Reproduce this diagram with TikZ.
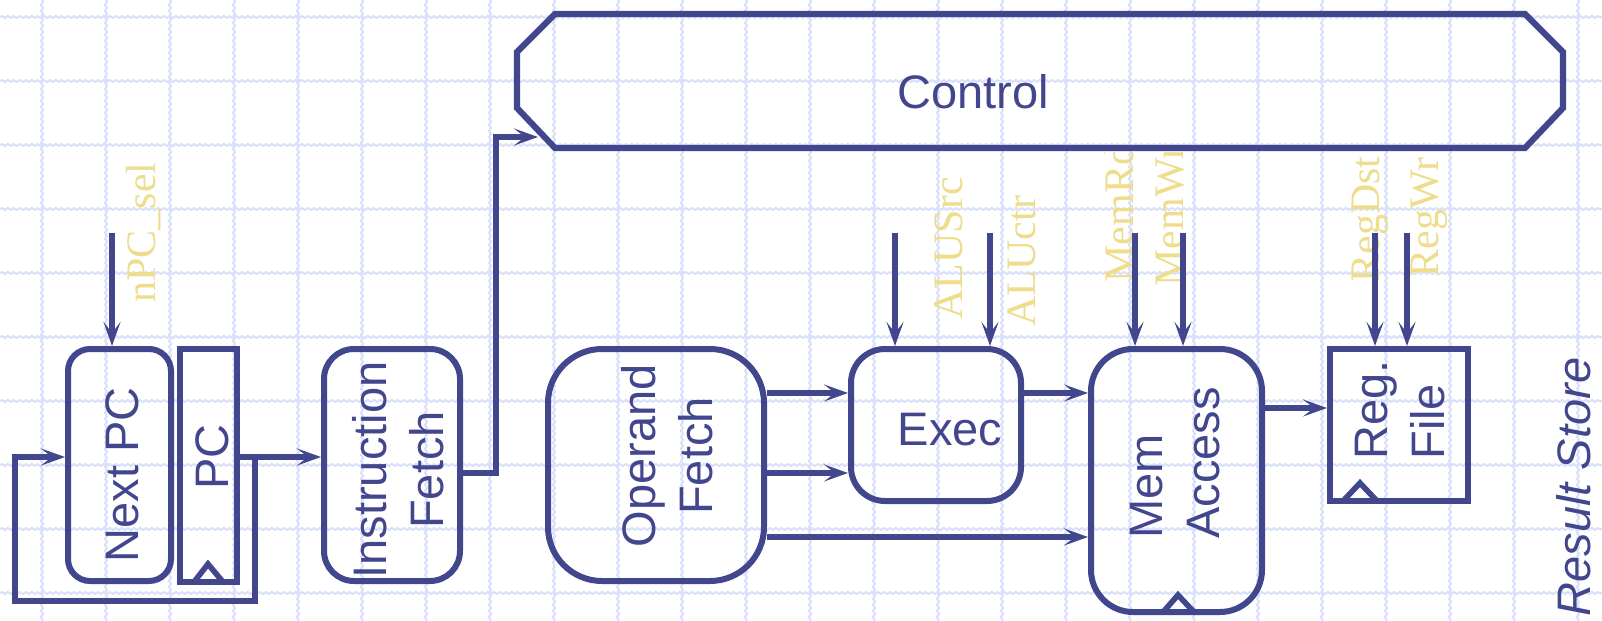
\documentclass[tikz,border=0pt]{standalone}
\usepackage{fontspec}
\setmainfont{Liberation Sans}
\newfontfamily\serifl{Liberation Serif}
\usetikzlibrary{arrows.meta,decorations.pathmorphing,fit,calc}
\definecolor{ink}{RGB}{66,70,140}
\definecolor{gold}{RGB}{238,221,140}
\definecolor{gridc}{RGB}{216,224,252}
\begin{document}
\begin{tikzpicture}[x=0.5pt,y=-0.5pt,
  blk/.style={draw=ink, line width=3pt, inner sep=0pt},
  arr/.style={draw=ink, line width=2.8pt, line join=miter, -{Stealth[length=12pt,width=8.5pt,inset=5.5pt]}},
  lbl/.style={text=ink, font=\fontsize{23.5}{28.5}\selectfont, inner sep=0pt},
  sig/.style={text=gold, font=\serifl\fontsize{21}{24}\selectfont, inner sep=0pt, rotate=90, anchor=base west},
  clk/.style={draw=ink, line width=2.8pt},
  gridl/.style={draw=gridc, line width=1pt, decorate, decoration={snake, segment length=3pt, amplitude=0.5pt}},
]
\useasboundingbox (0,0) rectangle (1602,621);
\fill[white] (0,0) rectangle (1602,621);
\foreach \i in {0,...,24} \draw[gridl] (42+64*\i,0) -- (42+64*\i,621);
\foreach \j in {0,...,9} \draw[gridl] (0,17+64*\j) -- (1602,17+64*\j);

% signal labels (partly hidden under Control)
\begin{scope}
\clip (0,152) rectangle (1602,621);
\node[sig] (l0) at (155,303) {nPC\_sel};
\node[sig] (l1) at (962,320) {ALUSrc};
\node[sig] (l2) at (1035,327) {ALUctr};
\node[sig] (l3) at (1133,283) {MemRd};
\node[sig] (l4) at (1183,287) {MemWr};
\node[sig] (l5) at (1379,283) {RegDst};
\node[sig] (l6) at (1438,278) {RegWr};
\end{scope}

% blocks
\node[blk, rounded corners=11pt, fit={(68,349) (171,581)}] (npc) {};
\node[blk, fit={(180,349) (237,582)}] (pc) {};
\node[blk, rounded corners=15pt, fit={(324,349) (460,581)}] (ifetch) {};
\node[blk, rounded corners=27pt, fit={(548,349) (764,581)}] (of) {};
\node[blk, rounded corners=17pt, fit={(851,349) (1021,501)}] (ex) {};
\node[blk, rounded corners=21pt, fit={(1091,349) (1262,612)}] (mem) {};
\node[blk, fit={(1330,349) (1468,501)}] (rf) {};

% control
\node[inner sep=0pt, fit={(517,14) (1563,148)}] (ctrl) {};
\draw[blk, line width=3.1pt, line join=miter] (555,14) -- (1525,14) -- (1563,52) -- (1563,108) -- (1525,148) -- (555,148) -- (517,108) -- (517,52) -- cycle;
\node[lbl, anchor=base] (ctrlt) at (973,108) {Control};

% clock marks
\draw[clk] (194,582) -- (208,564) -- (223,582);
\draw[clk] (1164,611) -- (1178,595) -- (1193,611);
\draw[clk] (1344,500) -- (1360,483) -- (1376,500);

% texts
\node[lbl, rotate=90, anchor=base] (tnpc) at (138,475) {Next PC};
\node[lbl, rotate=90, anchor=base] (tpc) at (228,457) {PC};
\node[lbl, rotate=90, align=center] (tif) at (398,470) {Instruction\\Fetch};
\node[lbl, rotate=90, align=center] (tof) at (667,456) {Operand\\Fetch};
\node[lbl, anchor=base] (tex) at (950,445) {Exec};
\node[lbl, rotate=90, align=left] (tmem) at (1175,463) {Mem\\Access};
\node[lbl, rotate=90, align=left] (trf) at (1400,410) {Reg.\\File};
\node[lbl, rotate=90, anchor=base, font=\itshape\fontsize{23.5}{28.5}\selectfont] (trs) at (1590,487) {Result Store};

% connectors
\coordinate (s0) at (112,233);
\draw[arr] (s0) -- (s0 |- npc.north);
\coordinate (j1) at (255,457);
\draw[arr] (pc.east |- j1) -- (ifetch.west |- j1);
\coordinate (fbc) at (15,601);
\draw[arr] (j1) |- (fbc) |- (npc.west |- j1);
\coordinate (yif) at (0,473);
\coordinate (c1) at (496,137);
\coordinate (cin) at (538,137);
\draw[arr] (ifetch.east |- yif) -| (c1) -- (cin);
\coordinate (ya) at (0,393);
\coordinate (yb) at (0,473);
\coordinate (yc) at (0,537);
\coordinate (yd) at (0,408);
\draw[arr] (of.east |- ya) -- (ex.west |- ya);
\draw[arr] (of.east |- yb) -- (ex.west |- yb);
\draw[arr] (of.east |- yc) -- (mem.west |- yc);
\draw[arr] (ex.east |- ya) -- (mem.west |- ya);
\draw[arr] (mem.east |- yd) -- (rf.west |- yd);
\coordinate (s1) at (895,233);
\coordinate (s2) at (990,233);
\coordinate (s3) at (1135,233);
\coordinate (s4) at (1183,233);
\coordinate (s5) at (1375,233);
\coordinate (s6) at (1407,233);
\draw[arr] (s1) -- (s1 |- ex.north);
\draw[arr] (s2) -- (s2 |- ex.north);
\draw[arr] (s3) -- (s3 |- mem.north);
\draw[arr] (s4) -- (s4 |- mem.north);
\draw[arr] (s5) -- (s5 |- rf.north);
\draw[arr] (s6) -- (s6 |- rf.north);
\end{tikzpicture}
\end{document}
